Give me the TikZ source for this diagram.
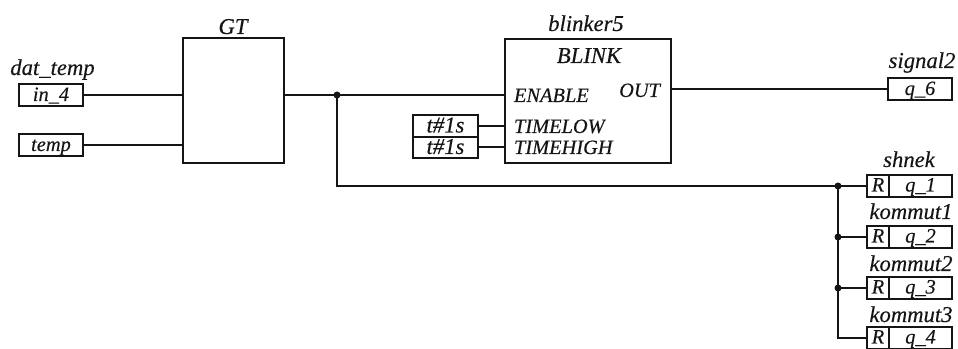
\documentclass[tikz,border=0pt]{standalone}
\usepackage{fontspec}
\setmainfont{Liberation Serif}[ItalicFeatures={FakeBold=0.3}]
\def\px{0.75pt}
\definecolor{ink}{HTML}{151515}
\tikzset{
  every node/.style={font=\fontsize{17}{19}\selectfont\itshape, text=ink, inner sep=0pt, outer sep=0pt},
  boxfont/.style={font=\fontsize{15.3}{17}\selectfont\itshape},
  wire/.style={draw=ink, line width=1.5pt},
  block/.style={draw=ink, line width=1.5pt, rectangle},
  iobox/.style={block, boxfont, minimum width=64*\px, minimum height=22*\px, text height=8.75pt, text depth=0.5pt},
  tbox/.style={block, minimum width=65*\px, minimum height=21.5*\px, text height=10.25pt, text depth=0.5pt},
  rbox/.style={block, boxfont, minimum width=22*\px, minimum height=22*\px, text height=8.75pt, text depth=0.5pt},
  qbox/.style={block, boxfont, minimum width=63*\px, minimum height=22*\px, text height=8.75pt, text depth=0.5pt},
  lab/.style={anchor=base},
  pin/.style={anchor=base west, boxfont},
  dot/.style={circle, fill=ink, minimum size=7*\px}
}
\begin{document}
\begin{tikzpicture}[x=0.75pt,y=-0.75pt]
\useasboundingbox (0,0) rectangle (958,349);
% input boxes
\node[iobox] (in4) at (51,95.5) {in\_4};
\node[iobox] (temp) at (51,145.5) {temp};
\node[lab] (ldat) at (52.5,75) {dat\_temp};
% GT
\node[block, minimum width=101*\px, minimum height=125*\px] (gt) at (233.5,100.5) {};
\node[lab] (lgt) at (233,34) {GT};
% blinker
\node[block, minimum width=166*\px, minimum height=124*\px] (blink) at (588,101) {};
\node[lab] (lblinker) at (586,31) {blinker5};
\node[lab] (lblink) at (589,63) {BLINK};
\node[pin] (en) at (514,102) {ENABLE};
\node[pin] (tl) at (514,133) {TIMELOW};
\node[pin] (th) at (514,154) {TIMEHIGH};
\node[anchor=base east, boxfont] (outp) at (660,97) {OUT};
% time constants
\node[tbox] (t1) at (445.5,126) {t\#1s};
\node[tbox] (t2) at (445.5,147.5) {t\#1s};
% signal2
\node[iobox] (q6) at (920,89.5) {q\_6};
\node[lab] (lsig) at (922,68) {signal2};
% outputs
\node[rbox] (r1) at (878,186) {R};
\node[qbox] (q1) at (920.5,186) {q\_1};
\node[lab] (ls) at (909,167) {shnek};
\node[rbox] (r2) at (878,237) {R};
\node[qbox] (q2) at (920.5,237) {q\_2};
\node[lab] (lk1) at (911,219) {kommut1};
\node[rbox] (r3) at (878,288) {R};
\node[qbox] (q3) at (920.5,288) {q\_3};
\node[lab] (lk2) at (911,271) {kommut2};
\node[rbox] (r4) at (878,338) {R};
\node[qbox] (q4) at (920.5,338) {q\_4};
\node[lab] (lk3) at (911,322) {kommut3};
% junctions
\node[dot] (j0) at (337,95) {};
\node[dot] (j1) at (838,186) {};
\node[dot] (j2) at (838,237) {};
\node[dot] (j3) at (838,288) {};
\coordinate (j4) at (838,338);
\coordinate (c0) at (337,186);
\coordinate (gi1) at (183,95);
\coordinate (gi2) at (183,145.5);
\coordinate (bo) at (671,89.5);
% connectors
\draw[wire] (in4.east |- gi1) -- (gi1);
\draw[wire] (temp.east) -- (gi2);
\draw[wire] (gt.east |- j0) -- (j0.center) -- (j0 -| blink.west);
\draw[wire] (j0.center) -- (c0) -- (j1.center) -- (r1.west);
\draw[wire] (t1.east) -- (t1 -| blink.west);
\draw[wire] (t2.east) -- (t2 -| blink.west);
\draw[wire] (bo) -- (q6.west);
\draw[wire] (j1.center) -- (j2.center) -- (j3.center) -- (j4) -- (r4.west);
\draw[wire] (j2.center) -- (r2.west);
\draw[wire] (j3.center) -- (r3.west);
\end{tikzpicture}
\end{document}
